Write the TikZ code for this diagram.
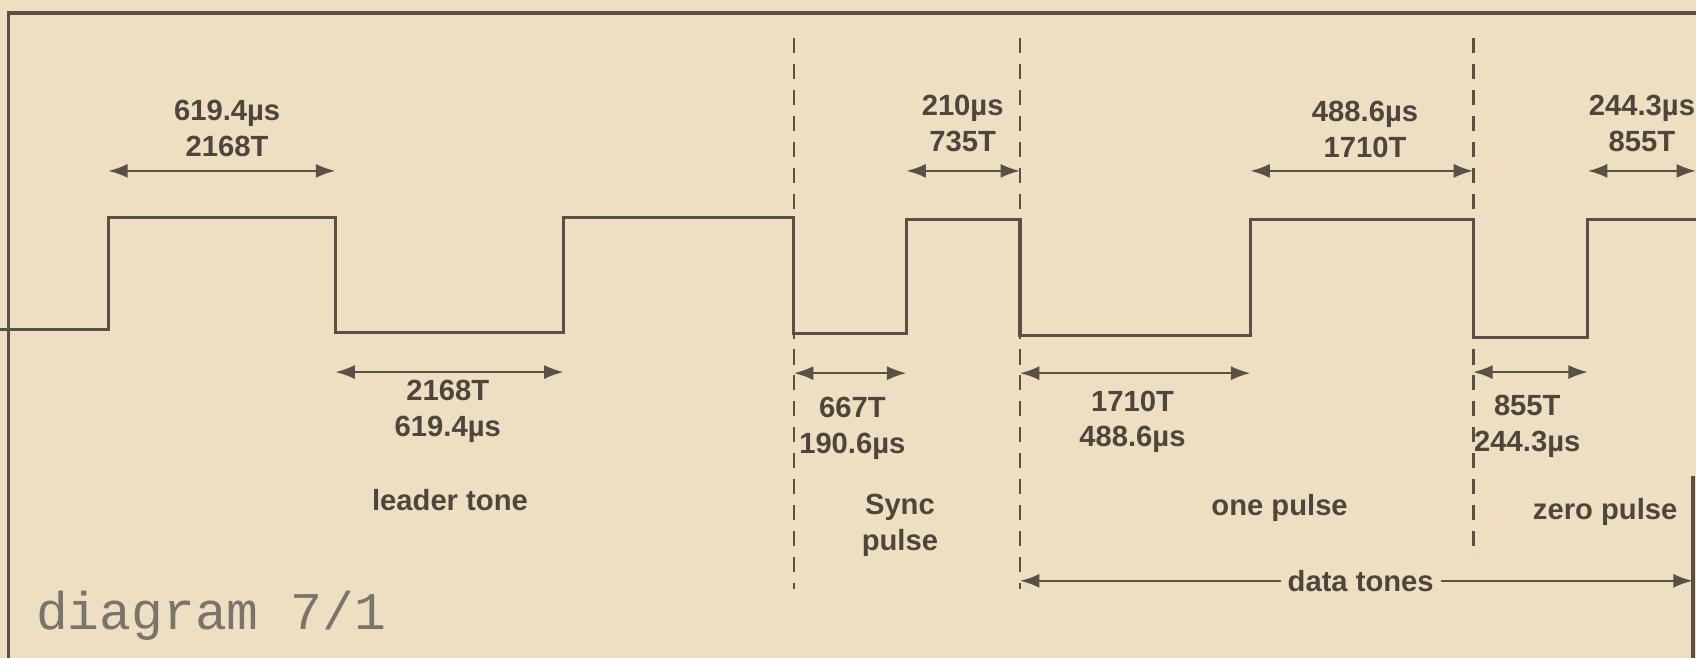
\documentclass[tikz,border=0pt]{standalone}
\usepackage{fontspec}
\setmainfont{Liberation Sans}
\setmonofont{Liberation Mono}
\usetikzlibrary{arrows.meta}
\definecolor{paper}{HTML}{EEDFC3}
\definecolor{ink}{HTML}{5A5146}
\definecolor{txt}{HTML}{4E463C}
\begin{document}
\begin{tikzpicture}[x=0.5pt,y=-0.5pt,
  wave/.style={draw=ink,line width=1.4pt,line join=miter},
  frameline/.style={draw=ink,line width=1.7pt},
  guide/.style={draw=ink,line width=1.2pt,dash pattern=on 7pt off 5pt},
  dim/.style={draw=ink,line width=1pt,{Latex[length=9pt,width=6.5pt]}-{Latex[length=9pt,width=6.5pt]}},
  half/.style={draw=ink,line width=1pt,-{Latex[length=9pt,width=6.5pt]}},
  lbl/.style={text=txt,font=\bfseries\fontsize{13.5}{16.5}\selectfont,inner sep=0pt,align=center},
  ]
\fill[paper] (0,0) rectangle (1568,608);
\useasboundingbox (0,0) rectangle (1568,608);
\begin{scope}
\clip (0,0) rectangle (1568,608);
% frame
\draw[frameline] (8,608) -- (8,12) -- (1568,12);
\draw[frameline] (1565,440) -- (1565,608);
% guides
\draw[guide] (734,35) -- (734,545);
\draw[guide] (943,35) -- (943,545);
\draw[guide] (1362,35) -- (1362,515);
% waveform
\draw[wave] (0,305) -- (100,305) -- (100,201) -- (310,201) -- (310,307) -- (521,307) -- (521,201)
  -- (734,201) -- (734,308) -- (838,308) -- (838,203) -- (943,203) -- (943,310) -- (1156,310)
  -- (1156,203) -- (1362,203) -- (1362,312) -- (1468,312) -- (1468,203) -- (1570,203);
% coordinates for dimension arrows
\coordinate (u1) at (100,158); \coordinate (u2) at (310,158);
\coordinate (l1) at (310,344); \coordinate (l2) at (521,344);
\coordinate (l3) at (734,345); \coordinate (l4) at (838,345);
\coordinate (u3) at (838,158); \coordinate (u4) at (943,158);
\coordinate (l5) at (943,345); \coordinate (l6) at (1156,345);
\coordinate (u5) at (1156,158); \coordinate (u6) at (1362,158);
\coordinate (l7) at (1362,344); \coordinate (l8) at (1468,344);
\coordinate (u7) at (1468,158); \coordinate (u8) at (1568,158);
\coordinate (dl) at (943,537); \coordinate (dr) at (1565,537);
\draw[dim] (u1) -- (u2);
\draw[dim] (l1) -- (l2);
\draw[dim] (l3) -- (l4);
\draw[dim] (u3) -- (u4);
\draw[dim] (l5) -- (l6);
\draw[dim] (u5) -- (u6);
\draw[dim] (l7) -- (l8);
\draw[dim] (u7) -- (u8);
% labels
\node[lbl] (t1) at (210,119) {619.4µs\\2168T};
\node[lbl] (b1) at (414,380) {2168T\\619.4µs};
\node[lbl] (lead) at (416,462) {leader tone};
\node[lbl] (s1) at (788,396) {667T\\190.6µs};
\node[lbl] (sync) at (832,486) {Sync\\pulse};
\node[lbl] (t2) at (890,114) {210µs\\735T};
\node[lbl] (b3) at (1047,390) {1710T\\488.6µs};
\node[lbl] (one) at (1183,470) {one pulse};
\node[lbl] (t3) at (1262,120) {488.6µs\\1710T};
\node[lbl] (b4) at (1412,394) {855T\\244.3µs};
\node[lbl] (zero) at (1484,473) {zero pulse};
\node[lbl] (t4) at (1518,114) {244.3µs\\855T};
\node[lbl,inner xsep=3pt] (dt) at (1258,537) {data tones};
\draw[half] (dt.west) -- (dl);
\draw[half] (dt.east) -- (dr);
\node[anchor=west,text=txt!75,font=\ttfamily\fontsize{24.5}{24.5}\selectfont,inner sep=0pt] (diag) at (33,569) {diagram 7/1};
\end{scope}
\end{tikzpicture}
\end{document}
